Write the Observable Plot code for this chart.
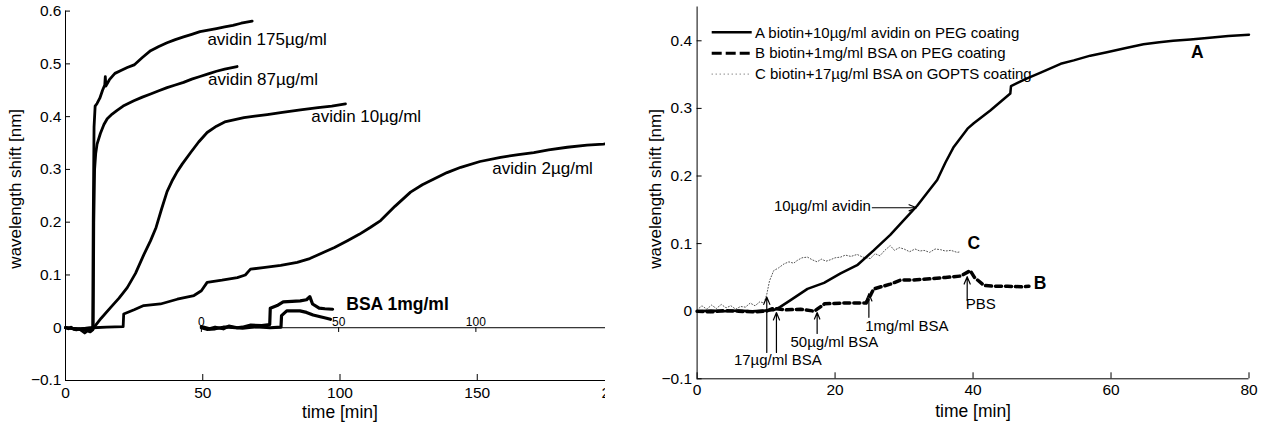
<!DOCTYPE html>
<html><head><meta charset="utf-8">
<script src="https://cdn.jsdelivr.net/npm/d3@7"></script>
<script src="https://cdn.jsdelivr.net/npm/@observablehq/plot@0.6"></script>
<style>
body{margin:0;background:#fff;width:1268px;height:427px;position:relative;overflow:hidden;font-family:"Liberation Sans",Arial,Helvetica,sans-serif;}
#left{position:absolute;left:0;top:0;width:605px;height:427px;overflow:hidden;}
#right{position:absolute;left:606px;top:0;width:662px;height:427px;}
#legend{position:absolute;left:700px;top:18px;width:400px;height:70px;}
svg{overflow:visible;max-width:none !important;}
</style>
</head><body>
<div id="left"></div>
<div id="right"></div>
<div id="legend"></div>
<script>
// ---------- LEFT PANEL DATA: [time (min), wavelength shift (nm)] ----------
const avidin175 = [[0,0],[1,-0.002],[2,0.001],[3,-0.003],[4,-0.004],[5,-0.002],[6,-0.006],[7,-0.01],[8,-0.006],[9,-0.008],[9.9,-0.004],[10.1,0.2],[10.4,0.38],[10.8,0.42],[11.5,0.425],[12.5,0.435],[13.5,0.45],[14.3,0.46],[14.5,0.476],[14.7,0.458],[16,0.47],[18,0.482],[20,0.487],[22.5,0.493],[25,0.498],[28,0.512],[31,0.525],[34,0.533],[37,0.54],[40,0.546],[43,0.551],[46,0.556],[49,0.561],[52,0.564],[55,0.567],[58,0.57],[61,0.573],[64,0.577],[68,0.581]];
const avidin87 = [[0,0],[3,-0.002],[6,-0.004],[9,-0.005],[10.1,-0.003],[10.3,0.2],[10.6,0.3],[11,0.33],[11.5,0.348],[12.7,0.368],[14,0.385],[15.2,0.396],[17,0.405],[18.8,0.412],[21,0.42],[24.9,0.43],[28,0.437],[31,0.443],[34,0.449],[37,0.455],[40,0.46],[43,0.465],[46,0.471],[49,0.476],[52,0.481],[55,0.486],[58,0.49],[62.5,0.495]];
const avidin10 = [[0,0],[5,-0.002],[10,0],[10.3,0],[13,0.018],[16.4,0.038],[19.5,0.056],[22.5,0.076],[25.5,0.103],[28.5,0.138],[31,0.165],[33,0.19],[35,0.225],[37,0.258],[39,0.28],[40.5,0.294],[42.5,0.31],[45.6,0.332],[48.5,0.352],[51.6,0.37],[55,0.382],[58,0.39],[61.3,0.394],[65,0.398],[69,0.401],[73.5,0.404],[79,0.408],[85.6,0.413],[92,0.417],[97,0.42],[102,0.424]];
const avidin2 = [[0,0],[5,-0.002],[10,0],[15,0.001],[21,0.002],[21.2,0.026],[25,0.034],[28.5,0.042],[34.6,0.045],[40.7,0.054],[46.8,0.061],[49.5,0.07],[51.6,0.086],[57,0.09],[62.6,0.095],[65.5,0.1],[67.4,0.111],[72,0.114],[78.4,0.118],[84.4,0.124],[89,0.131],[94.1,0.143],[98,0.152],[102.7,0.165],[107,0.177],[111,0.19],[114.8,0.203],[120,0.23],[125.7,0.257],[130,0.271],[134.2,0.282],[139,0.294],[144,0.304],[151,0.315],[158.5,0.323],[165,0.328],[170.6,0.332],[176,0.337],[182.8,0.342],[190,0.346],[196,0.348],[200,0.35]];
// inset (BSA 1mg/ml), time on the inset's own axis
const bsaUpper = [[0,0.002],[3,-0.002],[5,0.001],[8,-0.002],[10,0.003],[13,0.0],[15,0.001],[18,0.005],[22,0.004],[24.9,0.006],[25.1,0.037],[27.6,0.042],[29.8,0.049],[33,0.05],[36,0.051],[38.3,0.053],[39.5,0.059],[40.5,0.045],[42.9,0.037],[45,0.036],[47.8,0.035]];
const bsaLower = [[0,0.0],[2,-0.003],[5,-0.002],[8,0.001],[10,0.001],[15,-0.001],[20,0.002],[25,0.0],[29,0.001],[29.2,0.023],[31.1,0.032],[35.9,0.032],[38.3,0.029],[40.7,0.024],[45.6,0.018],[47,0.016]];
const insetOffset = 49.5;
const insetTicks = [0, 50, 100];
const leftXTicks = [0, 50, 100, 150, 200];
const leftYTicks = [-0.1, 0, 0.1, 0.2, 0.3, 0.4, 0.5, 0.6];
const leftLabels = [
  {t: 51.7, v: 0.546, text: "avidin 175µg/ml"},
  {t: 51.9, v: 0.470, text: "avidin 87µg/ml"},
  {t: 89.5, v: 0.400, text: "avidin 10µg/ml"},
  {t: 155.5, v: 0.301, text: "avidin 2µg/ml"}
];
const bsaLabel = [{t: 102.3, v: 0.044, text: "BSA 1mg/ml"}];

// ---------- RIGHT PANEL DATA ----------
const curveA = [[0,0],[2,0.001],[4,0],[6,0.001],[8,0.0],[10,0.001],[11.1,0.0015],[12,0.006],[13.5,0.016],[16,0.033],[18.4,0.042],[20.8,0.056],[23.2,0.068],[25.6,0.09],[28,0.113],[30,0.135],[31.9,0.156],[33.5,0.177],[34.8,0.194],[36,0.22],[37.2,0.243],[39.2,0.27],[40.1,0.278],[42.5,0.297],[45.4,0.322],[45.5,0.333],[47.5,0.343],[49.8,0.353],[52.7,0.366],[54.6,0.371],[57,0.378],[59.4,0.383],[62,0.389],[64.7,0.395],[67,0.398],[69,0.4],[71.5,0.402],[73.9,0.404],[77,0.407],[80,0.409]];
const curveB = [[0,0],[2,-0.001],[4,0.001],[6,0],[8,-0.001],[10,0.0],[11,0.004],[13,0.002],[15,0.003],[17,0.0],[17.4,0.003],[18.5,0.011],[21,0.012],[24.5,0.012],[25.2,0.025],[25.6,0.033],[28,0.04],[29.5,0.046],[31,0.046],[33.8,0.048],[36,0.05],[38.2,0.052],[39.6,0.06],[40.2,0.05],[41.6,0.038],[43,0.037],[45,0.037],[47,0.036],[48.1,0.037]];
const curveC = [[0,0.002],[0.7,0.008],[1.4,0.003],[2.1,0.009],[2.8,0.004],[3.5,0.01],[4.2,0.005],[4.9,0.008],[5.6,0.003],[6.3,0.007],[7,0.006],[7.7,0.012],[8.4,0.008],[9.1,0.014],[9.7,0.012],[10.1,0.025],[10.5,0.045],[11.1,0.06],[11.8,0.064],[12.6,0.07],[13.3,0.073],[14,0.071],[14.5,0.075],[15.2,0.079],[16,0.08],[16.7,0.076],[17.4,0.073],[18,0.077],[18.7,0.074],[19.3,0.076],[20,0.079],[20.8,0.08],[21.5,0.083],[22.3,0.081],[23.2,0.084],[24,0.08],[25.1,0.078],[25.8,0.085],[26.5,0.082],[27.2,0.09],[28,0.097],[28.6,0.09],[29.3,0.094],[30,0.092],[30.8,0.088],[31.6,0.092],[32.3,0.089],[32.9,0.09],[33.7,0.087],[34.5,0.092],[35.3,0.091],[36,0.089],[36.8,0.09],[37.7,0.087],[38.2,0.088]];
const rightXTicks = [0, 20, 40, 60, 80];
const rightYTicks = [-0.1, 0, 0.1, 0.2, 0.3, 0.4];
const curveLetters = [
  {t: 72.5, v: 0.383, text: "A"},
  {t: 49.7, v: 0.041, text: "B"},
  {t: 40.1, v: 0.100, text: "C"}
];
const annotEnd = [{t: 25.2, v: 0.156, text: "10µg/ml avidin"}];
const annotMiddle = [
  {t: 11.7, v: -0.073, text: "17µg/ml BSA"},
  {t: 19.9, v: -0.046, text: "50µg/ml BSA"},
  {t: 30.4, v: -0.0226, text: "1mg/ml BSA"}
];
const annotStart = [{t: 38.95, v: 0.0099, text: "PBS"}];
const annotArrows = [
  {t1: 25.4, v1: 0.153, t2: 31.8, v2: 0.153},
  {t1: 10.1, v1: -0.061, t2: 10.1, v2: 0.021},
  {t1: 11.5, v1: -0.061, t2: 11.5, v2: -0.002},
  {t1: 17.4, v1: -0.033, t2: 17.4, v2: -0.002},
  {t1: 24.9, v1: -0.009, t2: 24.9, v2: 0.026},
  {t1: 39.15, v1: 0.016, t2: 39.15, v2: 0.051}
];
const legendLabels = [
  "A biotin+10µg/ml avidin on PEG coating",
  "B biotin+1mg/ml BSA on PEG coating",
  "C biotin+17µg/ml BSA on GOPTS coating"
];

const FONT = '"Liberation Sans", Arial, Helvetica, sans-serif';
const X = d => d[0], Y = d => d[1];
const fmtY = d => d === 0 ? "0" : d3.format(".1f")(d);
const TICK_FS = 15.5;

const left = Plot.plot({
  width: 640, height: 427,
  marginLeft: 65, marginRight: 26, marginTop: 10.6, marginBottom: 47,
  x: {domain: [0, 200]},
  y: {domain: [-0.1, 0.6]},
  style: {fontFamily: FONT, fontSize: "15.5px", background: "white", color: "black", overflow: "visible", maxWidth: "none"},
  marks: [
    Plot.ruleX([0], {stroke: "black"}),
    Plot.ruleY([-0.1], {stroke: "black"}),
    Plot.axisY({ticks: leftYTicks, tickSize: -5, tickPadding: 9, tickFormat: fmtY, label: null, fontSize: TICK_FS}),
    Plot.axisX({ticks: leftXTicks, tickSize: -6, tickPadding: 12, tickFormat: d3.format("d"), label: null, fontSize: TICK_FS}),
    // inset axis
    Plot.ruleY([0], {x1: insetOffset, x2: 200, stroke: "black"}),
    Plot.ruleX(insetTicks, {x: d => d + insetOffset, y1: 0, y2: -0.009, stroke: "black"}),
    Plot.text(insetTicks, {x: d => d + insetOffset, y: 0, text: d => String(d), dy: -6, fontSize: 12}),
    Plot.line(avidin2, {x: X, y: Y, stroke: "black", strokeWidth: 2.8}),
    Plot.line(avidin10, {x: X, y: Y, stroke: "black", strokeWidth: 2.8}),
    Plot.line(avidin87, {x: X, y: Y, stroke: "black", strokeWidth: 2.8}),
    Plot.line(avidin175, {x: X, y: Y, stroke: "black", strokeWidth: 2.8}),
    Plot.line(bsaUpper, {x: d => d[0] + insetOffset, y: Y, stroke: "black", strokeWidth: 3.2}),
    Plot.line(bsaLower, {x: d => d[0] + insetOffset, y: Y, stroke: "black", strokeWidth: 3.2}),
    Plot.text(leftLabels, {x: "t", y: "v", text: "text", textAnchor: "start", fontSize: 17}),
    Plot.text(bsaLabel, {x: "t", y: "v", text: "text", textAnchor: "start", fontSize: 17.5, fontWeight: "bold"}),
    Plot.text(["wavelength shift [nm]"], {frameAnchor: "left", textAnchor: "middle", lineAnchor: "middle", dx: -50, dy: -7, rotate: -90, fontSize: 17}),
    Plot.text(["time [min]"], {frameAnchor: "bottom", textAnchor: "middle", lineAnchor: "middle", dy: 31.7, fontSize: 17.5})
  ]
});
document.getElementById("left").appendChild(left);

const right = Plot.plot({
  width: 662, height: 427,
  marginLeft: 90.6, marginRight: 19.5, marginTop: 6.5, marginBottom: 48.7,
  x: {domain: [0, 80]},
  y: {domain: [-0.1, 0.45]},
  style: {fontFamily: FONT, fontSize: "15.5px", background: "white", color: "black", overflow: "visible", maxWidth: "none"},
  marks: [
    Plot.ruleX([0], {stroke: "black"}),
    Plot.ruleY([-0.1], {stroke: "black"}),
    Plot.axisY({ticks: rightYTicks, tickSize: -5, tickPadding: 10, tickFormat: fmtY, label: null, fontSize: TICK_FS}),
    Plot.axisX({ticks: rightXTicks, tickSize: -6, tickPadding: 11.5, tickFormat: d3.format("d"), label: null, fontSize: TICK_FS}),
    Plot.line(curveC, {x: X, y: Y, stroke: "#555", strokeWidth: 1, strokeDasharray: "1,2"}),
    Plot.line(curveB, {x: X, y: Y, stroke: "black", strokeWidth: 3.5, strokeDasharray: "6,4"}),
    Plot.line(curveA, {x: X, y: Y, stroke: "black", strokeWidth: 2.5}),
    Plot.arrow(annotArrows, {x1: "t1", y1: "v1", x2: "t2", y2: "v2", stroke: "black", strokeWidth: 1.2, headLength: 10, headAngle: 45}),
    Plot.text(annotEnd, {x: "t", y: "v", text: "text", textAnchor: "end", fontSize: 15}),
    Plot.text(annotMiddle, {x: "t", y: "v", text: "text", textAnchor: "middle", fontSize: 15}),
    Plot.text(annotStart, {x: "t", y: "v", text: "text", textAnchor: "start", fontSize: 15}),
    Plot.text(curveLetters, {x: "t", y: "v", text: "text", fontSize: 17.5, fontWeight: "bold"}),
    Plot.text(["wavelength shift [nm]"], {frameAnchor: "left", textAnchor: "middle", lineAnchor: "middle", dx: -42, dy: -4, rotate: -90, fontSize: 17}),
    Plot.text(["time [min]"], {frameAnchor: "bottom", textAnchor: "middle", lineAnchor: "middle", dy: 32.4, fontSize: 17.5})
  ]
});
document.getElementById("right").appendChild(right);

// legend
const lg = d3.select("#legend").append("svg").attr("width", 400).attr("height", 70)
  .style("font-family", FONT).style("font-size", "15px");
const styles = [
  {w: 2.5, dash: null, c: "black"},
  {w: 3, dash: "10,4", c: "black"},
  {w: 1, dash: "1,3", c: "#555"}
];
legendLabels.forEach((lab, i) => {
  const y = 14.3 + i * 20.9;
  lg.append("line").attr("x1", 11.7).attr("x2", 51.7).attr("y1", y).attr("y2", y)
    .attr("stroke", styles[i].c).attr("stroke-width", styles[i].w)
    .attr("stroke-dasharray", styles[i].dash);
  lg.append("text").attr("x", 55).attr("y", y).attr("dy", "0.35em").text(lab);
});
</script>
</body></html>
